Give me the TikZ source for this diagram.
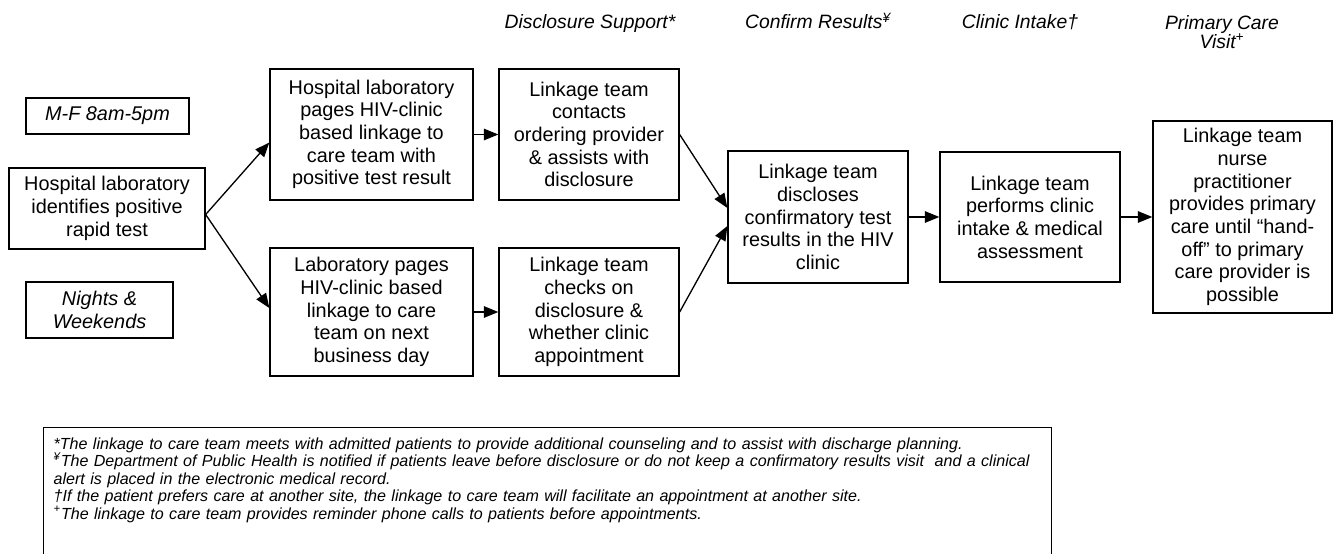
\documentclass[tikz,border=0pt]{standalone}
\usepackage{fontspec}
\setmainfont{Liberation Sans}
\usetikzlibrary{arrows.meta}

\begin{document}
\begin{tikzpicture}[>={Triangle[length=0.29cm,width=0.23cm]}, line width=0.75pt,
    stepbox/.style={draw, align=center, inner sep=0pt, font=\fontsize{11.3}{12.9}\selectfont},
    tagbox/.style={stepbox, font=\fontsize{11.3}{12.9}\selectfont\itshape},
    hdr/.style={align=center, font=\fontsize{11}{10.8}\selectfont\itshape}]

    \useasboundingbox (0,0) rectangle (26.8,-11.06);

    % Headers
    \node at (11.80,-0.58) (hdisc) [hdr, anchor=base] {Disclosure Support*};
    \node at (16.36,-0.58) (hconf) [hdr, anchor=base] {Confirm Results\textsuperscript{¥}};
    \node at (20.40,-0.58) (hclin) [hdr, anchor=base] {Clinic Intake†};
    \node at (24.44,-0.65) (hprim) [hdr] {Primary Care\\Visit\textsuperscript{+}};

    % Nodes
    \node at (2.15,-2.32) (mf) [tagbox, minimum width=3.26cm, minimum height=0.72cm] {M-F 8am-5pm};
    \node at (2.14,-4.17) (hosp) [stepbox, minimum width=3.92cm, minimum height=1.62cm] {Hospital laboratory\\identifies positive\\rapid test};
    \node at (1.99,-6.20) (nights) [tagbox, minimum width=2.94cm, minimum height=1.12cm] {Nights \&\\Weekends};
    \node at (7.43,-2.69) (day) [stepbox, minimum width=4.06cm, minimum height=2.62cm] {Hospital laboratory\\pages HIV-clinic\\based linkage to\\care team with\\positive test result};
    \node at (7.43,-6.24) (night) [stepbox, minimum width=4.06cm, minimum height=2.56cm] {Laboratory pages\\HIV-clinic based\\linkage to care\\team on next\\business day};
    \node at (11.78,-2.69) (contact) [stepbox, minimum width=3.60cm, minimum height=2.62cm] {Linkage team\\contacts\\ordering provider\\\& assists with\\disclosure};
    \node at (11.78,-6.24) (check) [stepbox, minimum width=3.60cm, minimum height=2.56cm] {Linkage team\\checks on\\disclosure \&\\whether clinic\\appointment};
    \node at (16.36,-4.34) (confirm) [stepbox, minimum width=3.60cm, minimum height=2.64cm] {Linkage team\\discloses\\confirmatory test\\results in the HIV\\clinic};
    \node at (20.60,-4.34) (intake) [stepbox, minimum width=3.60cm, minimum height=2.60cm] {Linkage team\\performs clinic\\intake \& medical\\assessment};
    \node at (24.85,-4.34) (visit) [stepbox, minimum width=3.58cm, minimum height=3.84cm] {Linkage team\\nurse\\practitioner\\provides primary\\care until “hand-\\off” to primary\\care provider is\\possible};

    % Arrows
    \draw[->] ([yshift=-0.12cm]hosp.east) -- ([yshift=-0.16cm]day.west);
    \draw[->] ([yshift=-0.12cm]hosp.east) -- ([yshift=0.08cm]night.west);
    \draw[->] (day) -- (contact);
    \draw[->] (night) -- (check);
    \draw[->] (contact.east) -- ([yshift=0.18cm]confirm.west);
    \draw[->] (check.east) -- ([yshift=-0.18cm]confirm.west);
    \draw[->] (confirm) -- (intake);
    \draw[->] (intake) -- (visit);

    % Footnotes
    \node at (0.86,-8.54) (notes) [draw, anchor=north west, align=left, text width=19.76cm,
        inner xsep=0.2cm, inner ysep=0.2cm, text depth=2.7cm,
        font=\fontsize{9.15}{9.95}\selectfont\itshape]
        {*The linkage to care team meets with admitted patients to provide additional counseling and to assist with discharge planning.\\
        \mbox{\smash{\textsuperscript{¥}}The Department of Public Health is notified if patients leave before disclosure or do not keep a confirmatory results visit\ \ and a clinical}\\
        alert is placed in the electronic medical record.\\
        †If the patient prefers care at another site, the linkage to care team will facilitate an appointment at another site.\\
        \smash{\textsuperscript{+}}The linkage to care team provides reminder phone calls to patients before appointments.};

\end{tikzpicture}
\end{document}
